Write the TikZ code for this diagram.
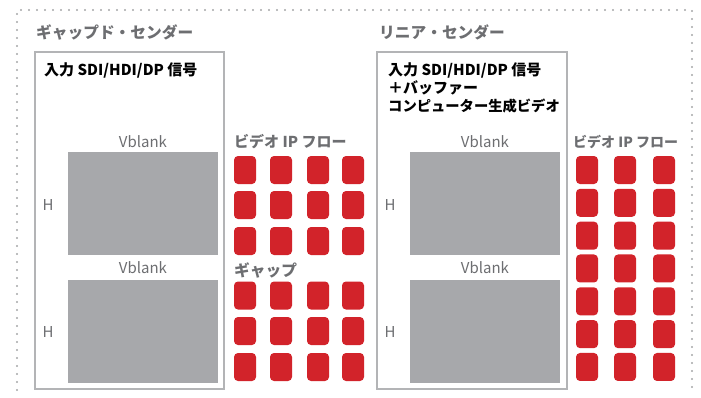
\documentclass[tikz,border=0pt]{standalone}
\usepackage{fontspec}
\newfontfamily\jp{Noto Sans CJK JP}
\definecolor{sqred}{HTML}{D2232A}
\definecolor{blk}{HTML}{A7A8AB}
\definecolor{txtgray}{HTML}{6D6E71}
\definecolor{boxline}{HTML}{B3B4B6}
\definecolor{dotc}{HTML}{A5A6A8}
\begin{document}
\begin{tikzpicture}[x=1pt,y=-1pt,
  sq/.style={fill=sqred, draw=none, rounded corners=4pt, minimum width=22pt, minimum height=28pt, inner sep=0pt},
  frame/.style={draw=boxline, line width=1.5pt},
  blank/.style={fill=blk, draw=none},
  head/.style={font=\jp\bfseries\fontsize{15.7}{18}\selectfont, text=txtgray, anchor=west, inner sep=0pt},
  flow/.style={font=\jp\bfseries\fontsize{15}{18}\selectfont, text=txtgray, anchor=west, inner sep=0pt},
  sig/.style={font=\jp\bfseries\fontsize{15}{18}\selectfont, text=black, anchor=west, inner sep=0pt, align=left},
  lbl/.style={font=\jp\fontsize{15}{18}\selectfont, text=txtgray, inner sep=0pt},
  dots/.style={draw=dotc, line width=2.4pt, line cap=round, dash pattern=on 0pt off 8pt}
]
\useasboundingbox (0,0) rectangle (701,397);
% outer dotted frame
\draw[dots] (17,390) -- (17,10) -- (692,10) -- (692,390);

% titles
\node[head] (t1) at (36,32) {ギャップド・センダー};
\node[head] (t2) at (379,32) {リニア・センダー};

% left panel
\draw[frame] (35,52) rectangle (224,389);
\node[sig] (s1) at (44,70) {入力 SDI/HDI/DP 信号};
\node[lbl] (v1) at (143,142) {Vblank};
\fill[blk] (68,152) rectangle (218,255);
\node[lbl] (v2) at (143,268) {Vblank};
\fill[blk] (68,280) rectangle (218,383);
\node[lbl] (h1) at (48,205) {H};
\node[lbl] (h2) at (48,332) {H};

% left flow
\node[flow] (f1) at (234,142) {ビデオ IP フロー};
\node[head] (g1) at (234,270) {ギャップ};
\foreach \x [count=\i] in {245,281,318,353}{
  \foreach \y [count=\j] in {170,205,241,295.5,331,367}{
    \node[sq] (L\i-\j) at (\x,\y) {};
  }
}

% right panel
\draw[frame] (377,52) rectangle (567,389);
\node[sig] (s2) at (388,88) {入力 SDI/HDI/DP 信号\\＋バッファー\\{\fontsize{14.3}{18}\selectfont コンピューター生成ビデオ}};
\node[lbl] (v3) at (485,142) {Vblank};
\fill[blk] (410,152) rectangle (560,255);
\node[lbl] (v4) at (485,268) {Vblank};
\fill[blk] (410,280) rectangle (560,383);
\node[lbl] (h3) at (390,205) {H};
\node[lbl] (h4) at (390,332) {H};

% right flow
\node[flow, font=\jp\bfseries\fontsize{14}{18}\selectfont] (f2) at (573,142) {ビデオ IP フロー};
\foreach \x [count=\i] in {587,625,664}{
  \foreach \j in {0,...,6}{
    \node[sq] (R\i-\j) at (\x,170+\j*32.83) {};
  }
}
\end{tikzpicture}
\end{document}
